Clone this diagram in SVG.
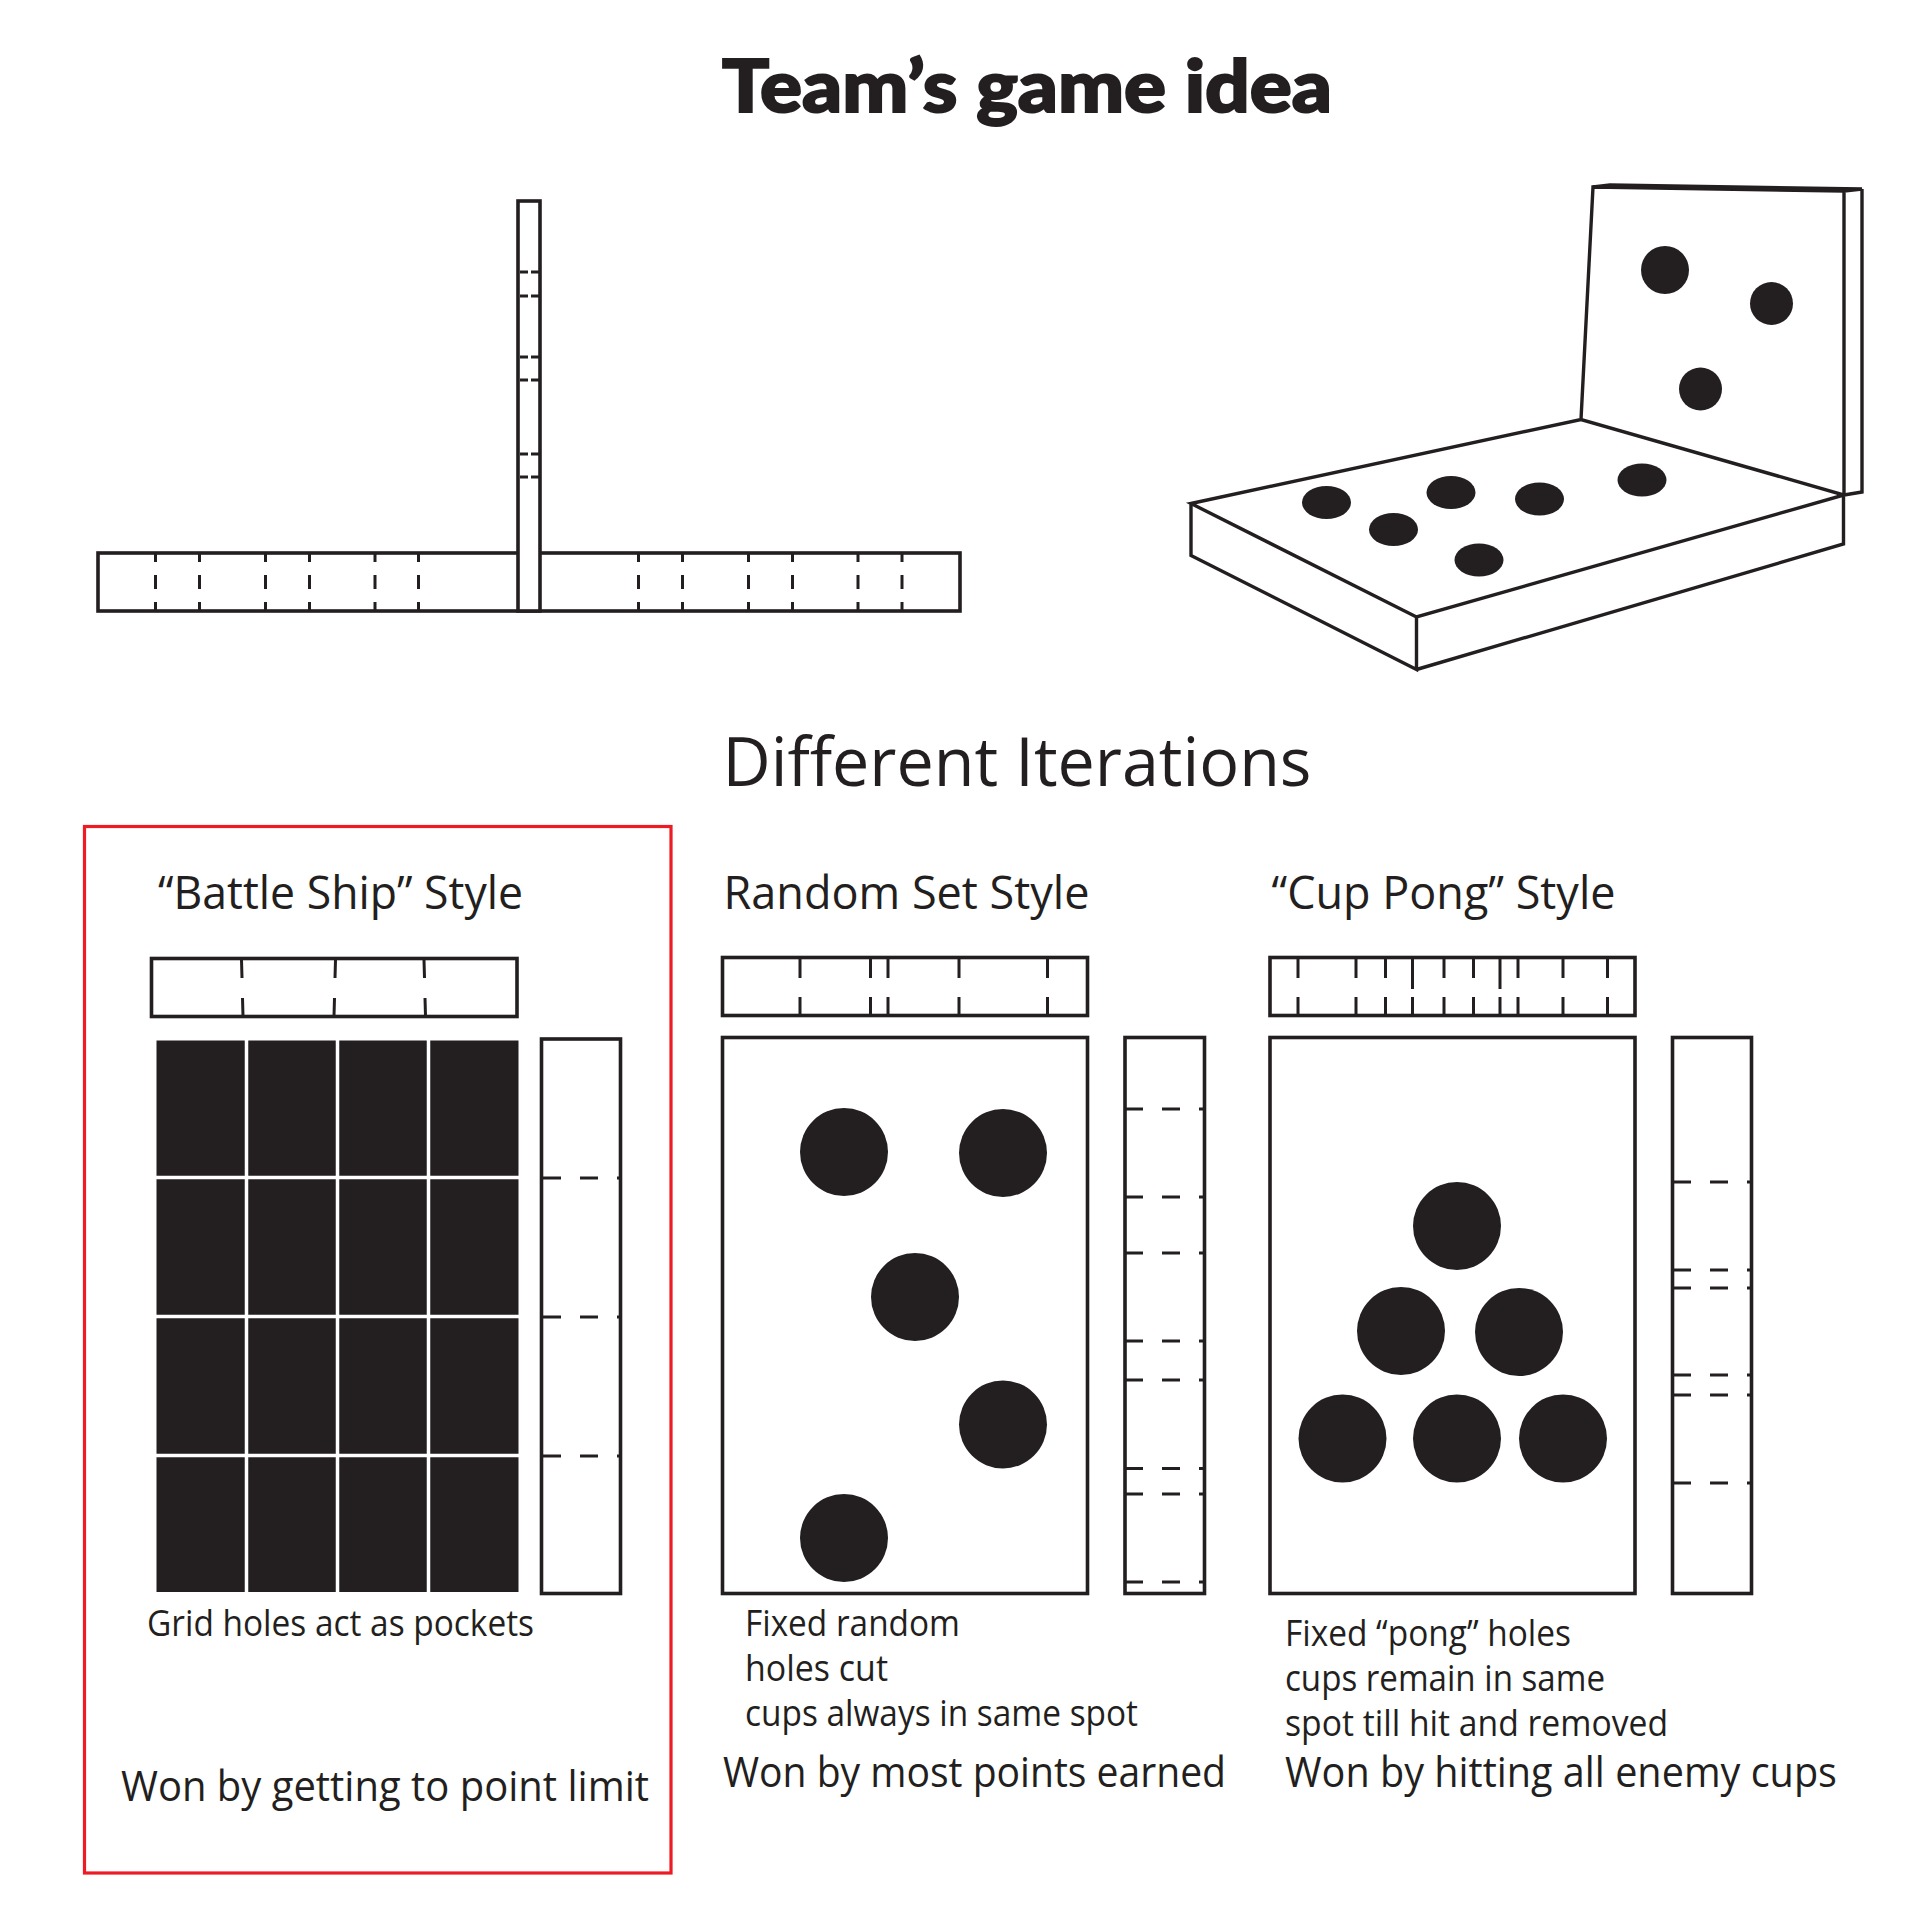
<svg xmlns="http://www.w3.org/2000/svg" width="1920" height="1920" viewBox="0 0 1920 1920">
<defs><style>
.o{fill:#fff;stroke:#231f20;stroke-width:3.600}
.l{fill:none;stroke:#231f20;stroke-width:3.400}
.d{fill:none;stroke:#231f20;stroke-width:3}
.h{fill:#231f20}
.g{fill:none;stroke:#fff;stroke-width:3.500}
text{font-family:"Open Sans","Noto Sans",sans-serif;fill:#231f20}
.t1{font-family:"Lato","Liberation Sans",sans-serif;font-weight:900;font-size:72px;stroke:#231f20;stroke-width:2}
.t2{font-size:68px}
.t3{font-size:45px}
.t4{font-size:36px}
.t5{font-size:42px}
</style></defs>
<rect width="1920" height="1920" fill="#fff"/>
<g id="titles">
<text class="t1" x="722" y="112" textLength="610" lengthAdjust="spacingAndGlyphs">Team’s game idea</text>
<text class="t2" x="722.500" y="786" textLength="589" lengthAdjust="spacingAndGlyphs">Different Iterations</text>
</g>
<g id="t-piece">
<rect class="o" x="98" y="553" width="862" height="58"/>
<rect class="o" x="518" y="201" width="22" height="410"/>
<path class="d" d="M520 272h8m3 0h8M520 296h8m3 0h8M520 357h8m3 0h8M520 380h8m3 0h8M520 454h8m3 0h8M520 477h8m3 0h8"/>
<path class="d" d="M155.500 553v9m0 13v14m0 13v9M199.500 553v9m0 13v14m0 13v9M265.500 553v9m0 13v14m0 13v9M309.500 553v9m0 13v14m0 13v9M375 553v9m0 13v14m0 13v9M418.500 553v9m0 13v14m0 13v9M638.500 553v9m0 13v14m0 13v9M682.500 553v9m0 13v14m0 13v9M748.500 553v9m0 13v14m0 13v9M792.500 553v9m0 13v14m0 13v9M858 553v9m0 13v14m0 13v9M902 553v9m0 13v14m0 13v9"/>
</g>
<g id="board-3d">
<path class="l" d="M1191 503.500L1581 419.500L1844 495L1416.500 617ZM1191 503.500V555.500L1416.500 669.500V617M1416.500 669.500L1843.500 544V495M1581 419.500L1593 187L1844 191V495M1593 187L1610 185L1862 189L1844 191M1862 189V492L1844 495"/>
<path class="h" d="M1596 187L1610 184.500L1860 189L1844 192Z"/>
<ellipse class="h" cx="1326.500" cy="502.500" rx="24.500" ry="16.500"/>
<ellipse class="h" cx="1393.500" cy="529.500" rx="24.500" ry="16.500"/>
<ellipse class="h" cx="1451" cy="492.500" rx="24.500" ry="16.500"/>
<ellipse class="h" cx="1539.500" cy="499" rx="24.500" ry="16.500"/>
<ellipse class="h" cx="1642" cy="480" rx="24.500" ry="16.500"/>
<ellipse class="h" cx="1479" cy="560" rx="24.500" ry="16.500"/>
<ellipse class="h" cx="1665" cy="270" rx="24" ry="24"/>
<ellipse class="h" cx="1771.500" cy="303.500" rx="21.500" ry="21.500"/>
<ellipse class="h" cx="1700.500" cy="389" rx="21.500" ry="21.500"/>
</g>
<rect id="highlight" x="84.500" y="826.500" width="586.500" height="1046.500" fill="none" stroke="#ed1c24" stroke-width="3.200"/>
<g id="battleship">
<text class="t3" x="158" y="909" textLength="365" lengthAdjust="spacingAndGlyphs">“Battle Ship” Style</text>
<rect class="o" x="151.500" y="958.500" width="365.500" height="58"/>
<path class="d" d="M241.500 960l.5 18M242.500 998l.5 18M335.500 960l-.5 18M334.500 998l-.5 18M424 960l.5 18M425 998l.5 18"/>
<rect class="h" x="156.500" y="1040.500" width="362" height="551.500"/>
<path class="g" d="M246.500 1040v552M337.500 1040v552M428.500 1040v552M156 1177.500h363M156 1316.500h363M156 1455.500h363"/>
<rect class="o" x="541.500" y="1039" width="79" height="554.500"/>
<path class="d" d="M542 1178h19m19 0h18m19 0h3M542 1317h19m19 0h18m19 0h3M542 1456h19m19 0h18m19 0h3"/>
<text class="t4" x="147" y="1635.500" textLength="387" lengthAdjust="spacingAndGlyphs">Grid holes act as pockets</text>
<text class="t5" x="121" y="1801" textLength="528" lengthAdjust="spacingAndGlyphs">Won by getting to point limit</text>
</g>
<g id="random-set">
<text class="t3" x="723.500" y="909" textLength="366" lengthAdjust="spacingAndGlyphs">Random Set Style</text>
<rect class="o" x="722.500" y="957.500" width="365" height="58"/>
<path class="d" d="M800 959v19m0 19v19M870.500 959v19m0 19v19M888 959v19m0 19v19M959 959v19m0 19v19M1047.500 959v19m0 19v19"/>
<rect class="o" x="722.500" y="1037.500" width="365" height="556"/>
<ellipse class="h" cx="844" cy="1152" rx="44" ry="44"/>
<ellipse class="h" cx="1003" cy="1153" rx="44" ry="44"/>
<ellipse class="h" cx="915" cy="1297" rx="44" ry="44"/>
<ellipse class="h" cx="1003" cy="1424.500" rx="44" ry="44"/>
<ellipse class="h" cx="844" cy="1538" rx="44" ry="44"/>
<rect class="o" x="1125" y="1037.500" width="79.500" height="556"/>
<path class="d" d="M1125 1109h18m19 0h18m19 0h5M1125 1197h18m19 0h18m19 0h5M1125 1253h18m19 0h18m19 0h5M1125 1341h18m19 0h18m19 0h5M1125 1380h18m19 0h18m19 0h5M1125 1468.500h18m19 0h18m19 0h5M1125 1494h18m19 0h18m19 0h5M1125 1582h18m19 0h18m19 0h5"/>
<text class="t4" x="745" y="1636" textLength="215" lengthAdjust="spacingAndGlyphs">Fixed random</text>
<text class="t4" x="745" y="1681" textLength="143" lengthAdjust="spacingAndGlyphs">holes cut</text>
<text class="t4" x="745" y="1726" textLength="393" lengthAdjust="spacingAndGlyphs">cups always in same spot</text>
<text class="t5" x="723" y="1787" textLength="503" lengthAdjust="spacingAndGlyphs">Won by most points earned</text>
</g>
<g id="cup-pong">
<text class="t3" x="1271.500" y="909" textLength="344" lengthAdjust="spacingAndGlyphs">“Cup Pong” Style</text>
<rect class="o" x="1270" y="957.500" width="365" height="58"/>
<path class="d" d="M1298 959v19m0 19v19M1356 959v19m0 19v19M1385.500 959v19m0 19v19M1412.500 959v30m0 8v19M1444 959v19m0 19v19M1473.500 959v19m0 19v19M1500 959v30m0 8v19M1518 959v19m0 19v19M1563 959v19m0 19v19M1607.500 959v19m0 19v19"/>
<rect class="o" x="1270" y="1037.500" width="365" height="556"/>
<ellipse class="h" cx="1457" cy="1226" rx="44" ry="44"/>
<ellipse class="h" cx="1401" cy="1331" rx="44" ry="44"/>
<ellipse class="h" cx="1519" cy="1332" rx="44" ry="44"/>
<ellipse class="h" cx="1342.500" cy="1438.500" rx="44" ry="44"/>
<ellipse class="h" cx="1457" cy="1438.500" rx="44" ry="44"/>
<ellipse class="h" cx="1563" cy="1438.500" rx="44" ry="44"/>
<rect class="o" x="1672.500" y="1037.500" width="79" height="556"/>
<path class="d" d="M1673 1182h18m19 0h18m19 0h5M1673 1270h18m19 0h18m19 0h5M1673 1288h18m19 0h18m19 0h5M1673 1375h18m19 0h18m19 0h5M1673 1395h18m19 0h18m19 0h5M1673 1483h18m19 0h18m19 0h5"/>
<text class="t4" x="1285" y="1646" textLength="286" lengthAdjust="spacingAndGlyphs">Fixed “pong” holes</text>
<text class="t4" x="1285" y="1691" textLength="320" lengthAdjust="spacingAndGlyphs">cups remain in same</text>
<text class="t4" x="1285" y="1736" textLength="383" lengthAdjust="spacingAndGlyphs">spot till hit and removed</text>
<text class="t5" x="1285" y="1787" textLength="552" lengthAdjust="spacingAndGlyphs">Won by hitting all enemy cups</text>
</g>
</svg>
